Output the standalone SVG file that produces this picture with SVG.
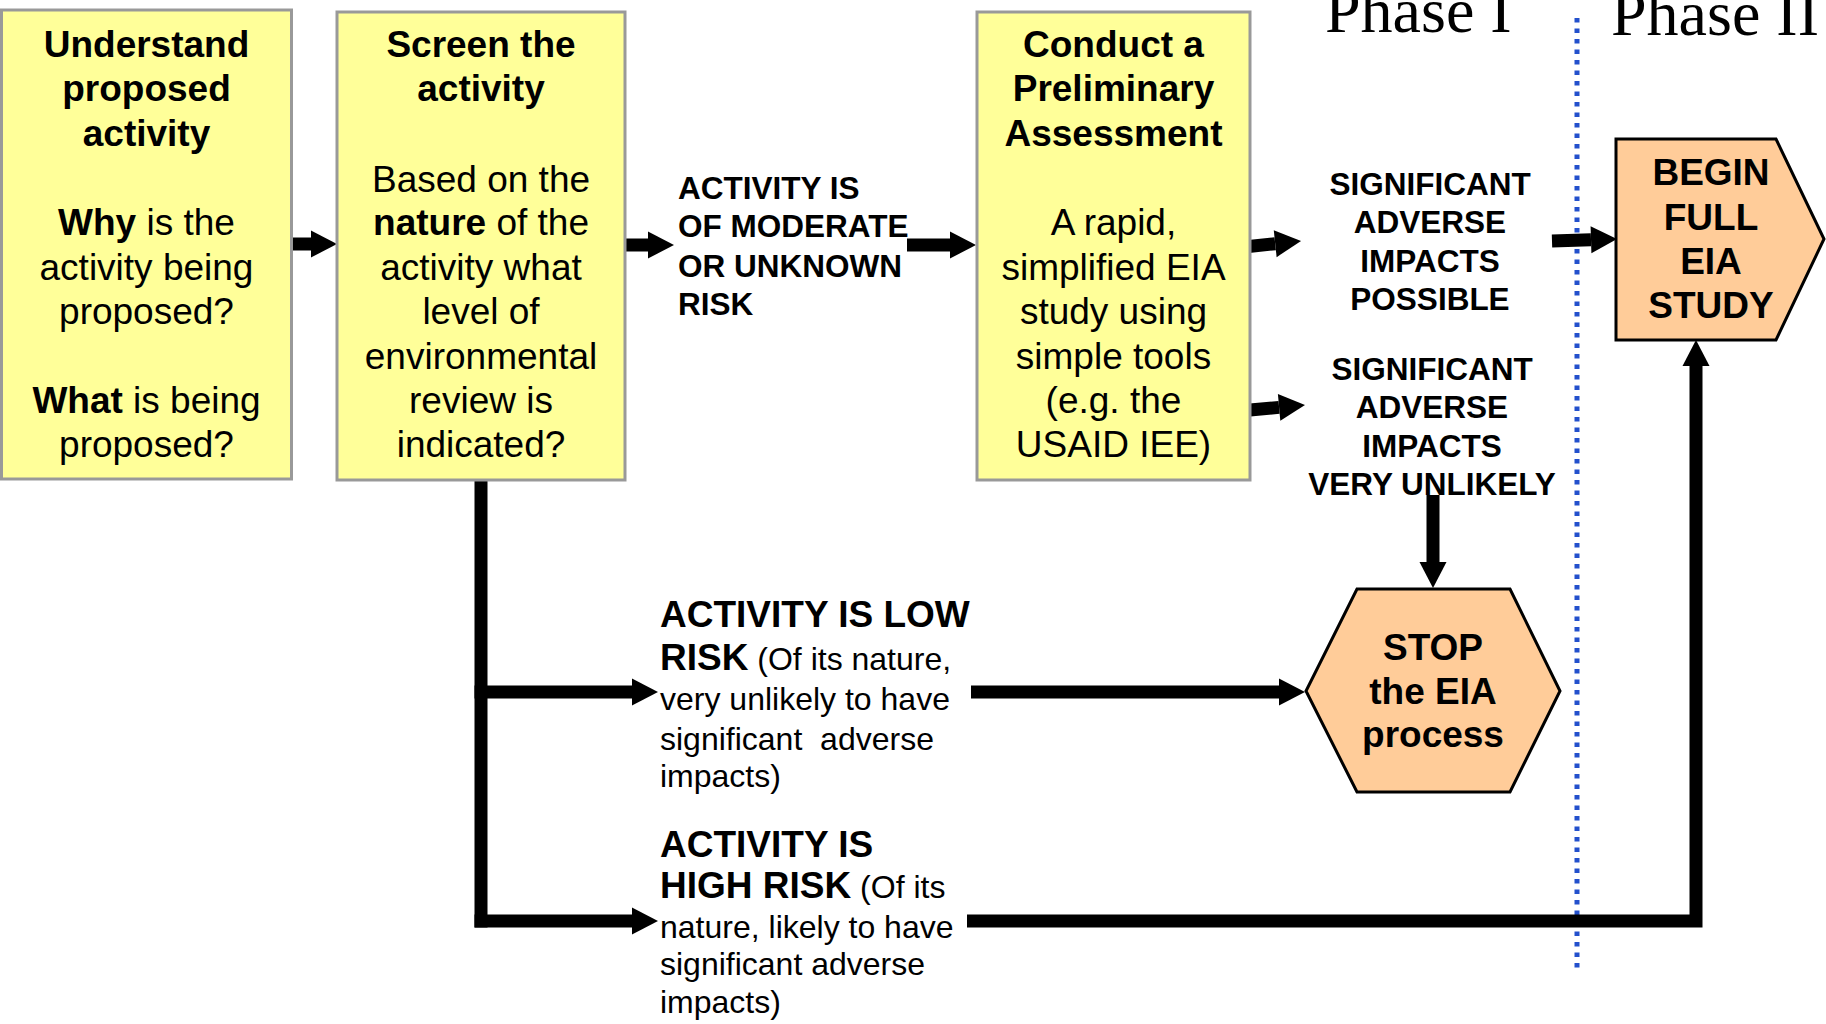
<svg xmlns="http://www.w3.org/2000/svg" width="1826" height="1024" viewBox="0 0 1826 1024">
<style>
.box{fill:#FFFF99;stroke:#999999;stroke-width:3}
.term{fill:#FFCC99;stroke:#000000;stroke-width:3}
.bt{font-family:"Liberation Sans",Arial,sans-serif;font-size:37px;fill:#000;text-anchor:middle}
.b{font-weight:bold}
.lbl{font-family:"Liberation Sans",Arial,sans-serif;font-size:31.5px;font-weight:bold;fill:#000}
.mid{text-anchor:middle}
.lt{font-family:"Liberation Sans",Arial,sans-serif;font-size:32px;fill:#000}
.lb{font-size:37px;font-weight:bold}
.ph{font-family:"Liberation Serif","Times New Roman",serif;font-size:64px;fill:#000}
.c{fill:none;stroke:#000;stroke-width:13;stroke-linejoin:miter}
</style>
<defs>
<marker id="ah" markerUnits="userSpaceOnUse" markerWidth="28" markerHeight="28" refX="0" refY="13.5" orient="auto" overflow="visible">
<path d="M0,0 L26,13.5 L0,27 Z" fill="#000"/>
</marker>
</defs>
<rect width="1826" height="1024" fill="#ffffff"/>

<g id="phases">
<text class="ph" x="1325" y="32">Phase I</text>
<text class="ph" x="1611" y="35">Phase II</text>
<line x1="1577" y1="18" x2="1577" y2="972" stroke="#2350CC" stroke-width="5" stroke-dasharray="4.5 6"/>
</g>

<g id="connectors">
<line class="c" x1="286" y1="244" x2="311" y2="244" marker-end="url(#ah)"/>
<line class="c" x1="618" y1="245" x2="648" y2="245" marker-end="url(#ah)"/>
<line class="c" x1="907" y1="245" x2="950" y2="245" marker-end="url(#ah)"/>
<line class="c" x1="1244" y1="247" x2="1275.2" y2="243.7" marker-end="url(#ah)"/>
<line class="c" x1="1250" y1="410" x2="1279.1" y2="407.4" marker-end="url(#ah)"/>
<line class="c" x1="1552" y1="241" x2="1591" y2="239.8" marker-end="url(#ah)"/>
<line class="c" x1="1433" y1="495" x2="1433" y2="562" marker-end="url(#ah)"/>
<path class="c" d="M481,480 V927.5"/>
<line class="c" x1="474.5" y1="692" x2="632" y2="692" marker-end="url(#ah)"/>
<line class="c" x1="474.5" y1="921" x2="632" y2="921" marker-end="url(#ah)"/>
<line class="c" x1="971" y1="692" x2="1279" y2="692" marker-end="url(#ah)"/>
<path class="c" d="M967,921 H1696 V366" marker-end="url(#ah)"/>
</g>

<g id="understand">
<rect class="box" x="1.5" y="10" width="290" height="469"/>
<text class="bt b" x="146.5" y="57">Understand</text>
<text class="bt b" x="146.5" y="101">proposed</text>
<text class="bt b" x="146.5" y="146">activity</text>
<text class="bt" x="146.5" y="235"><tspan class="b">Why</tspan> is the</text>
<text class="bt" x="146.5" y="280">activity being</text>
<text class="bt" x="146.5" y="324">proposed?</text>
<text class="bt" x="146.5" y="413"><tspan class="b">What</tspan> is being</text>
<text class="bt" x="146.5" y="457">proposed?</text>
</g>

<g id="screen">
<rect class="box" x="337" y="12" width="288" height="468"/>
<text class="bt b" x="481" y="57">Screen the</text>
<text class="bt b" x="481" y="101">activity</text>
<text class="bt" x="481" y="192">Based on the</text>
<text class="bt" x="481" y="235"><tspan class="b">nature</tspan> of the</text>
<text class="bt" x="481" y="280">activity what</text>
<text class="bt" x="481" y="324">level of</text>
<text class="bt" x="481" y="369">environmental</text>
<text class="bt" x="481" y="413">review is</text>
<text class="bt" x="481" y="457">indicated?</text>
</g>

<g id="moderate">
<text class="lbl" x="678" y="199">ACTIVITY IS</text>
<text class="lbl" x="678" y="237">OF MODERATE</text>
<text class="lbl" x="678" y="277">OR UNKNOWN</text>
<text class="lbl" x="678" y="315">RISK</text>
</g>

<g id="preliminary">
<rect class="box" x="977" y="12" width="273" height="468"/>
<text class="bt b" x="1113.5" y="57">Conduct a</text>
<text class="bt b" x="1113.5" y="101">Preliminary</text>
<text class="bt b" x="1113.5" y="146">Assessment</text>
<text class="bt" x="1113.5" y="235">A rapid,</text>
<text class="bt" x="1113.5" y="280">simplified EIA</text>
<text class="bt" x="1113.5" y="324">study using</text>
<text class="bt" x="1113.5" y="369">simple tools</text>
<text class="bt" x="1113.5" y="413">(e.g. the</text>
<text class="bt" x="1113.5" y="457">USAID IEE)</text>
</g>

<g id="possible">
<text class="lbl mid" x="1430" y="195">SIGNIFICANT</text>
<text class="lbl mid" x="1430" y="233">ADVERSE</text>
<text class="lbl mid" x="1430" y="272">IMPACTS</text>
<text class="lbl mid" x="1430" y="310">POSSIBLE</text>
</g>

<g id="unlikely">
<text class="lbl mid" x="1432" y="380">SIGNIFICANT</text>
<text class="lbl mid" x="1432" y="418">ADVERSE</text>
<text class="lbl mid" x="1432" y="457">IMPACTS</text>
<text class="lbl mid" x="1432" y="495">VERY UNLIKELY</text>
</g>

<g id="begin">
<polygon class="term" points="1616,139 1776,139 1824,239 1776,340 1616,340"/>
<text class="bt b" x="1711" y="185">BEGIN</text>
<text class="bt b" x="1711" y="230">FULL</text>
<text class="bt b" x="1711" y="274">EIA</text>
<text class="bt b" x="1711" y="318">STUDY</text>
</g>

<g id="stop">
<polygon class="term" points="1357,589 1510,589 1560,691 1510,792 1357,792 1306,691"/>
<text class="bt b" x="1433" y="660">STOP</text>
<text class="bt b" x="1433" y="704">the EIA</text>
<text class="bt b" x="1433" y="747">process</text>
</g>

<g id="lowrisk">
<text class="lt lb" x="660" y="627">ACTIVITY IS LOW</text>
<text class="lt" x="660" y="670"><tspan class="lb">RISK</tspan> (Of its nature,</text>
<text class="lt" x="660" y="710">very unlikely to have</text>
<text class="lt" x="660" y="750" xml:space="preserve">significant  adverse</text>
<text class="lt" x="660" y="787">impacts)</text>
</g>

<g id="highrisk">
<text class="lt lb" x="660" y="857">ACTIVITY IS</text>
<text class="lt" x="660" y="898"><tspan class="lb">HIGH RISK</tspan> (Of its</text>
<text class="lt" x="660" y="938">nature, likely to have</text>
<text class="lt" x="660" y="975">significant adverse</text>
<text class="lt" x="660" y="1013">impacts)</text>
</g>
</svg>
